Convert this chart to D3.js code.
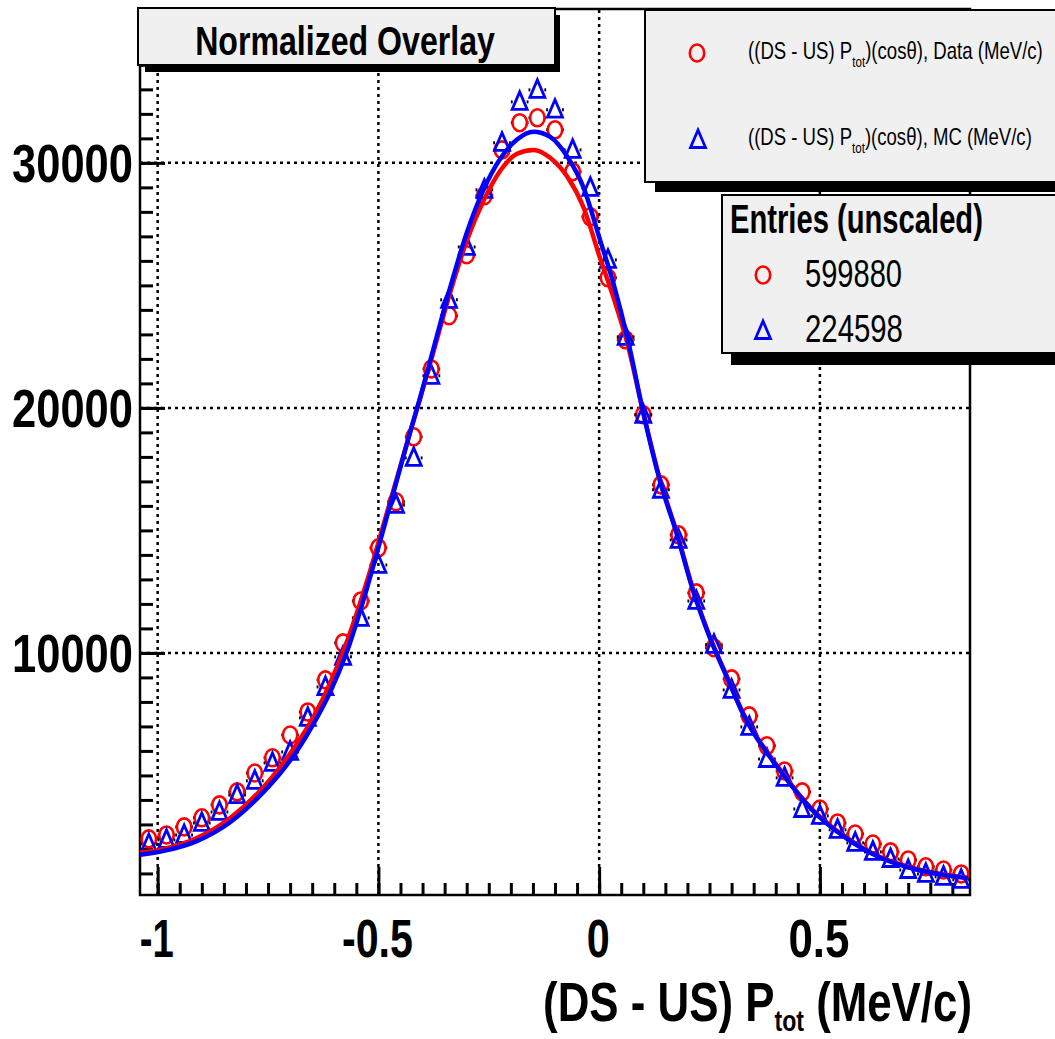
<!DOCTYPE html>
<html><head><meta charset="utf-8">
<script src="https://cdn.jsdelivr.net/npm/d3@7"></script>
<style>html,body{margin:0;padding:0;background:#fff;overflow:hidden}</style>
</head><body><svg id="c" width="1055" height="1039"></svg>
<script>
// ---------------- data ----------------
const binX = [-1.02,-0.98,-0.94,-0.90,-0.86,-0.82,-0.78,-0.74,-0.70,-0.66,-0.62,-0.58,-0.54,-0.50,-0.46,-0.42,-0.38,-0.34,-0.30,-0.26,-0.22,-0.18,-0.14,-0.10,-0.06,-0.02,0.02,0.06,0.10,0.14,0.18,0.22,0.26,0.30,0.34,0.38,0.42,0.46,0.50,0.54,0.58,0.62,0.66,0.70,0.74,0.78,0.82];
const dataVals = [2410,2570,2900,3270,3800,4330,5100,5720,6650,7590,8900,10410,12120,14290,16170,18820,21590,23760,26250,28660,30530,31640,31840,31350,29640,27800,25310,22780,19720,16860,14820,12450,10210,8940,7430,6210,5180,4330,3630,3060,2610,2200,1880,1550,1270,1140,980];
const mcVals = [2200,2370,2570,3060,3510,4200,4780,5510,5960,7350,8610,9840,11430,13590,16040,17960,21310,24410,26570,28900,30820,32490,32980,32170,30530,28980,26040,22900,19720,16660,14610,12120,10330,8490,6980,5670,4900,3630,3350,2780,2250,1880,1590,1140,980,860,740];
const binHalfWidth = 0.02;

const fitX = [-1.04,-0.986,-0.91,-0.835,-0.76,-0.722,-0.683,-0.647,-0.609,-0.57,-0.525,-0.484,-0.45,-0.428,-0.405,-0.376,-0.337,-0.299,-0.262,-0.224,-0.186,-0.149,-0.111,-0.072,-0.036,0.002,0.032,0.066,0.10,0.138,0.176,0.213,0.251,0.29,0.326,0.41,0.484,0.561,0.636,0.71,0.787,0.835];
const dataFit = [1840,2000,2450,3270,4530,5350,6330,7390,8780,10530,12980,15510,17630,19020,20410,22250,24740,26860,28450,29680,30370,30530,30210,29430,28210,26120,24530,22490,19800,17060,14900,12570,10650,9020,7550,5230,3590,2450,1670,1230,940,820];
const mcFit = [1760,1920,2330,3100,4330,5100,6040,7100,8410,10120,12700,15350,17590,19020,20450,22370,24940,27190,28900,30170,30950,31270,31060,30250,29020,26860,25100,22700,19800,17000,14850,12530,10610,8980,7510,5190,3560,2420,1650,1200,920,800];

const xMajor = [-1, -0.5, 0, 0.5];
const xMajorLabels = ["-1", "-0.5", "0", "0.5"];
const xMinor = [-1.0,-0.95,-0.9,-0.85,-0.8,-0.75,-0.7,-0.65,-0.6,-0.55,-0.5,-0.45,-0.4,-0.35,-0.3,-0.25,-0.2,-0.15,-0.1,-0.05,0,0.05,0.1,0.15,0.2,0.25,0.3,0.35,0.4,0.45,0.5,0.55,0.6,0.65,0.7,0.75,0.8];
const yMajor = [10000, 20000, 30000];
const yMajorLabels = ["10000", "20000", "30000"];
const yMinor = [1000,2000,3000,4000,5000,6000,7000,8000,9000,10000,11000,12000,13000,14000,15000,16000,17000,18000,19000,20000,21000,22000,23000,24000,25000,26000,27000,28000,29000,30000,31000,32000,33000,34000,35000,36000];

const titleText = "Normalized Overlay";
const legendLabels = [["((DS - US) P", "tot", ")(cos\u03B8), Data (MeV/c)"], ["((DS - US) P", "tot", ")(cos\u03B8), MC (MeV/c)"]];
const entriesTitle = "Entries (unscaled)";
const entriesCounts = ["599880", "224598"];
const xTitle = ["(DS - US) P", "tot", " (MeV/c)"];

// ---------------- drawing ----------------
const F = "'Liberation Sans', Arial, Helvetica, sans-serif";
const RED = "#ff0000", BLUE = "#0000ff";
const svg = d3.select('#c');
svg.append('rect').attr('width',1055).attr('height',1039).attr('fill','#fff');

const x = d3.scaleLinear().domain([-1.04, 0.84]).range([140, 970]);
const y = d3.scaleLinear().domain([120, 36280]).range([895, 9]);
const [X0, X1] = x.range(), [Y0, Y1] = y.range();

function fitText(parent, o) {
  const g = parent.append('g');
  const t = g.append('text').attr('font-family', F).attr('font-size', o.size)
    .attr('font-weight', o.weight || 'normal').attr('text-anchor', o.anchor || 'start').attr('fill', '#000');
  if (o.parts) {
    o.parts.forEach(p => {
      const ts = t.append('tspan').text(p.t);
      if (p.s) ts.attr('font-size', p.s);
      if (p.dy) ts.attr('dy', p.dy);
    });
  } else t.text(o.text);
  const w = t.node().getBBox().width;
  const sx = o.width ? o.width / w : 1;
  g.attr('transform', `translate(${o.x},${o.y}) scale(${sx},1)`);
  return g;
}

// grid
const grid = svg.append('g').attr('stroke', '#000').attr('stroke-width', 2.5).attr('stroke-dasharray', '3,4');
xMajor.forEach(v => grid.append('line').attr('x1', x(v)).attr('x2', x(v)).attr('y1', Y0).attr('y2', Y1));
yMajor.forEach(v => grid.append('line').attr('y1', y(v)).attr('y2', y(v)).attr('x1', X0).attr('x2', X1));

// axes ticks (inside the frame)
function styleAxis(g) { g.select('.domain').remove(); g.selectAll('line').attr('stroke', '#000').attr('stroke-width', 3); }
svg.append('g').attr('transform', `translate(0,${Y0})`)
  .call(d3.axisBottom(x).tickValues(xMinor).tickSize(-12).tickSizeOuter(0).tickFormat('')).call(styleAxis);
svg.append('g').attr('transform', `translate(0,${Y0})`)
  .call(d3.axisBottom(x).tickValues(xMajor).tickSize(-28).tickSizeOuter(0).tickFormat('')).call(styleAxis);
svg.append('g').attr('transform', `translate(${X0},0)`)
  .call(d3.axisLeft(y).tickValues(yMinor).tickSize(-13).tickSizeOuter(0).tickFormat('')).call(styleAxis);
svg.append('g').attr('transform', `translate(${X0},0)`)
  .call(d3.axisLeft(y).tickValues(yMajor).tickSize(-25).tickSizeOuter(0).tickFormat('')).call(styleAxis);

// frame
svg.append('rect').attr('x', X0).attr('y', Y1).attr('width', X1 - X0).attr('height', Y0 - Y1)
  .attr('fill', 'none').attr('stroke', '#000').attr('stroke-width', 2.5);

// markers
const R = 7;
function circleMarker(g, cx, cy, color) {
  g.append('ellipse').attr('cx', cx).attr('cy', cy).attr('rx', 7.2).attr('ry', 8.5)
    .attr('fill', 'none').attr('stroke', color).attr('stroke-width', 2.6);
}
function triMarker(g, cx, cy, color) {
  g.append('path').attr('d', `M${cx},${cy - 10}L${cx + 7.5},${cy + 7.5}L${cx - 7.5},${cy + 7.5}Z`)
    .attr('fill', 'none').attr('stroke', color).attr('stroke-width', 2.8).attr('stroke-linejoin', 'miter');
}
function drawSeries(vals, color, marker) {
  const g = svg.append('g');
  binX.forEach((c, i) => {
    const cy = y(vals[i]), cx = x(c);
    g.append('line').attr('x1', x(c - binHalfWidth)).attr('x2', cx - R).attr('y1', cy).attr('y2', cy).attr('stroke', '#000').attr('stroke-width', 3);
    g.append('line').attr('x1', cx + R).attr('x2', x(c + binHalfWidth)).attr('y1', cy).attr('y2', cy).attr('stroke', '#000').attr('stroke-width', 3);
  });
  binX.forEach((c, i) => marker(g, x(c), y(vals[i]), color));
}
drawSeries(dataVals, RED, circleMarker);
drawSeries(mcVals, BLUE, triMarker);

// fit curves
const line = d3.line().x(d => x(d[0])).y(d => y(d[1])).curve(d3.curveMonotoneX);
svg.append('path').attr('d', line(fitX.map((v, i) => [v, dataFit[i]]))).attr('fill', 'none').attr('stroke', RED).attr('stroke-width', 4.5);
svg.append('path').attr('d', line(fitX.map((v, i) => [v, mcFit[i]]))).attr('fill', 'none').attr('stroke', BLUE).attr('stroke-width', 4.5);

// tick labels
yMajor.forEach((v, i) => fitText(svg, { text: yMajorLabels[i], x: 133, y: y(v) + 19, size: 53, weight: 'bold', anchor: 'end', width: 121 }));
const xLabW = [34, 71, 23, 61];
xMajor.forEach((v, i) => fitText(svg, { text: xMajorLabels[i], x: x(v) - 1, y: 957, size: 54, weight: 'bold', anchor: 'middle', width: xLabW[i] }));

// x title
fitText(svg, { parts: [{ t: xTitle[0] }, { t: xTitle[1], s: 29, dy: 10 }, { t: xTitle[2], dy: -10 }], x: 972, y: 1021, size: 55, weight: 'bold', anchor: 'end', width: 429 });

// title box
svg.append('rect').attr('x', 145).attr('y', 15).attr('width', 415).attr('height', 57).attr('fill', '#000');
svg.append('rect').attr('x', 138).attr('y', 8).attr('width', 417).attr('height', 57).attr('fill', '#f0f0f0').attr('stroke', '#000').attr('stroke-width', 2);
fitText(svg, { text: titleText, x: 345, y: 55, size: 41, weight: 'bold', anchor: 'middle', width: 300 });

// legend box
svg.append('rect').attr('x', 655).attr('y', 20).attr('width', 420).attr('height', 172).attr('fill', '#000');
svg.append('rect').attr('x', 645).attr('y', 10).attr('width', 420).attr('height', 172).attr('fill', '#f0f0f0').attr('stroke', '#000').attr('stroke-width', 2);
const lg = svg.append('g');
circleMarker(lg, 697, 53, RED);
triMarker(lg, 698, 140, BLUE);
fitText(svg, { parts: [{ t: legendLabels[0][0] }, { t: legendLabels[0][1], s: 15, dy: 8 }, { t: legendLabels[0][2], dy: -8 }], x: 748, y: 59, size: 24, anchor: 'start', width: 295 });
fitText(svg, { parts: [{ t: legendLabels[1][0] }, { t: legendLabels[1][1], s: 15, dy: 8 }, { t: legendLabels[1][2], dy: -8 }], x: 748, y: 145, size: 24, anchor: 'start', width: 284 });

// entries box
svg.append('rect').attr('x', 731).attr('y', 205).attr('width', 340).attr('height', 160).attr('fill', '#000');
svg.append('rect').attr('x', 722).attr('y', 195).attr('width', 340).attr('height', 158).attr('fill', '#f0f0f0').attr('stroke', '#000').attr('stroke-width', 2);
fitText(svg, { text: entriesTitle, x: 730, y: 233, size: 40, weight: 'bold', anchor: 'start', width: 253 });
const eg = svg.append('g');
circleMarker(eg, 763, 275, RED);
triMarker(eg, 763, 331, BLUE);
fitText(svg, { text: entriesCounts[0], x: 805, y: 287, size: 38, anchor: 'start', width: 97 });
fitText(svg, { text: entriesCounts[1], x: 805, y: 342, size: 38, anchor: 'start', width: 98 });
</script>
</body></html>
